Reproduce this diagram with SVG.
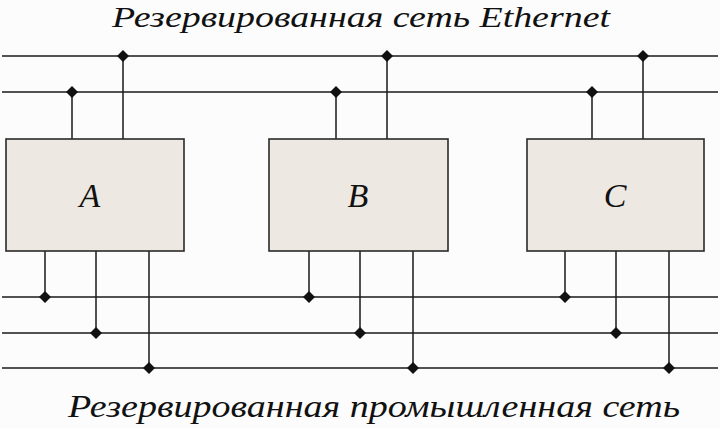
<svg xmlns="http://www.w3.org/2000/svg" width="720" height="428" viewBox="0 0 720 428">
<style>
.bg{fill:#fcfcfc}
.box{fill:#ede8e1;stroke:#2a2a2a;stroke-width:1.6}
.ln{stroke:#1a1a1a;stroke-width:1.5;fill:none}
.dot{fill:#111}
.t{font-family:"Liberation Serif","Times New Roman",serif;font-style:italic;fill:#111}
.lbl{font-family:"Liberation Serif","Times New Roman",serif;font-style:italic;fill:#111;font-size:34px;text-anchor:middle}
</style>
<defs>
<path id="d" d="M0,-6 L6,0 L0,6 L-6,0 Z" class="dot"/>
</defs>
<rect class="bg" x="0" y="0" width="720" height="428"/>
<text class="t" x="112" y="27" font-size="30" textLength="498" lengthAdjust="spacingAndGlyphs">Резервированная сеть Ethernet</text>
<text class="t" x="68" y="417" font-size="31" textLength="612" lengthAdjust="spacingAndGlyphs">Резервированная промышленная сеть</text>
<g id="connectors">
<line class="ln" x1="2" y1="56" x2="718" y2="56"/>
<line class="ln" x1="2" y1="92" x2="718" y2="92"/>
<line class="ln" x1="2" y1="297" x2="718" y2="297"/>
<line class="ln" x1="2" y1="333" x2="718" y2="333"/>
<line class="ln" x1="2" y1="368" x2="718" y2="368"/>
<line class="ln" x1="72" y1="92" x2="72" y2="139"/>
<line class="ln" x1="123" y1="56" x2="123" y2="139"/>
<line class="ln" x1="336" y1="92" x2="336" y2="139"/>
<line class="ln" x1="387" y1="56" x2="387" y2="139"/>
<line class="ln" x1="592" y1="92" x2="592" y2="139"/>
<line class="ln" x1="643" y1="56" x2="643" y2="139"/>
<line class="ln" x1="45" y1="251" x2="45" y2="297"/>
<line class="ln" x1="96" y1="251" x2="96" y2="333"/>
<line class="ln" x1="149" y1="251" x2="149" y2="368"/>
<line class="ln" x1="309" y1="251" x2="309" y2="297"/>
<line class="ln" x1="360" y1="251" x2="360" y2="333"/>
<line class="ln" x1="413" y1="251" x2="413" y2="368"/>
<line class="ln" x1="565" y1="251" x2="565" y2="297"/>
<line class="ln" x1="616" y1="251" x2="616" y2="333"/>
<line class="ln" x1="669" y1="251" x2="669" y2="368"/>
<use href="#d" x="72" y="92"/>
<use href="#d" x="123" y="56"/>
<use href="#d" x="336" y="92"/>
<use href="#d" x="387" y="56"/>
<use href="#d" x="592" y="92"/>
<use href="#d" x="643" y="56"/>
<use href="#d" x="45" y="297"/>
<use href="#d" x="96" y="333"/>
<use href="#d" x="149" y="368"/>
<use href="#d" x="309" y="297"/>
<use href="#d" x="360" y="333"/>
<use href="#d" x="413" y="368"/>
<use href="#d" x="565" y="297"/>
<use href="#d" x="616" y="333"/>
<use href="#d" x="669" y="368"/>
</g>
<g id="nodeA">
<rect class="box" x="6" y="139" width="178" height="112"/>
<text class="lbl" x="90" y="207">A</text>
</g>
<g id="nodeB">
<rect class="box" x="269" y="139" width="179" height="112"/>
<text class="lbl" x="358" y="207">B</text>
</g>
<g id="nodeC">
<rect class="box" x="527" y="139" width="177" height="112"/>
<text class="lbl" x="615" y="207">C</text>
</g>
</svg>
